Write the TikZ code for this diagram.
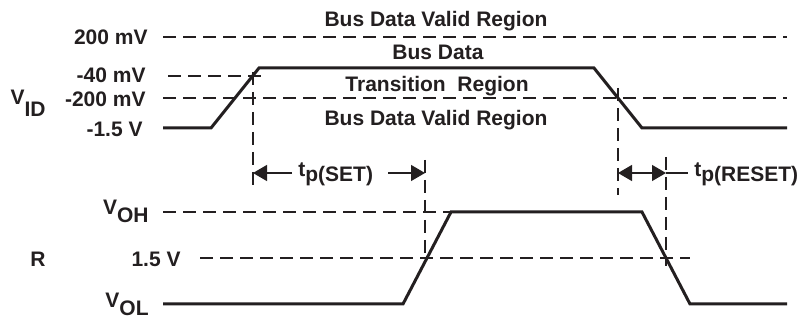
\documentclass[tikz,border=0pt]{standalone}
\usepackage{fontspec}
\setmainfont{Liberation Sans}
\usetikzlibrary{calc,arrows.meta,positioning}
\definecolor{ink}{RGB}{35,31,32}
\newcommand{\lowered}[2]{\raisebox{-#1}{#2}}

\begin{document}
\begin{tikzpicture}[x=0.5pt,y=-0.5pt,ink,font=\bfseries\fontsize{10.5}{12}\selectfont,
  wave/.style={line width=1.5pt},
  guide/.style={line width=0.65pt,dash pattern=on 6.5pt off 3.5pt},
  dimline/.style={line width=0.65pt,-{Triangle[length=7pt,width=8pt]}},
  lbl/.style={inner sep=0pt,anchor=base east},
  region/.style={inner sep=0pt,anchor=base}]
  \useasboundingbox (0,0) rectangle (803,325);

  % input waveform
  \coordinate (i1) at (163,128);
  \coordinate (i2) at (211,128);
  \coordinate (i3) at (259,68);
  \coordinate (i4) at (594,68);
  \coordinate (i5) at (642,128);
  \coordinate (i6) at (787,128);
  \draw[wave] (i1) -- (i2) -- (i3) -- (i4) -- (i5) -- (i6);

  % output waveform
  \coordinate (o1) at (163,304);
  \coordinate (o2) at (403,304);
  \coordinate (o3) at (451,212);
  \coordinate (o4) at (642,212);
  \coordinate (o5) at (690,304);
  \coordinate (o6) at (787,304);
  \draw[wave] (o1) -- (o2) -- (o3) -- (o4) -- (o5) -- (o6);

  % threshold labels
  \node[lbl] (l200) at (148,45) {200 mV};
  \node[lbl] (l40) at (146,83) {-40 mV};
  \node[lbl] (l200n) at (146,107) {-200 mV};
  \node[lbl] (l15n) at (143,137) {-1.5 V};
  \node[lbl] (vid) at (46,105) {V\lowered{6pt}{ID}};
  \node[lbl] (voh) at (149,215) {V\lowered{4pt}{OH}};
  \node[lbl] (l15) at (181,267) {1.5 V};
  \node[lbl] (rr) at (46,267) {R};
  \node[lbl] (vol) at (149,308) {V\lowered{4pt}{OL}};

  % regions
  \node[region] (valid1) at (436,27) {Bus Data Valid Region};
  \node[region] (busd) at (438,60) {Bus Data};
  \node[region] (trans) at (437,92) {Transition~ Region};
  \node[region] (valid2) at (436,126) {Bus Data Valid Region};

  % dashed levels
  \coordinate (g1a) at (163,37);  \coordinate (g1b) at (787,37);
  \coordinate (g2a) at (168,76);  \coordinate (g2b) at (265,76);
  \coordinate (g3a) at (163,98);  \coordinate (g3b) at (787,98);
  \coordinate (g4a) at (163,212);
  \coordinate (g5a) at (200,258); \coordinate (g5b) at (690,258);
  \draw[guide] (g1a) -- (g1b);
  \draw[guide] (g2a) -- (g2b);
  \draw[guide] (g3a) -- (g3b);
  \draw[guide] (g4a) -- (o3);
  \draw[guide] (g5a) -- (g5b);

  % timing marks
  \coordinate (v1t) at (253,72);  \coordinate (v1b) at (253,188);
  \coordinate (v2t) at (425,160); \coordinate (v2b) at (425,263);
  \coordinate (v3t) at (618,88);  \coordinate (v3b) at (618,195);
  \coordinate (v4t) at (666,157); \coordinate (v4b) at (666,266);
  \draw[guide] (v1t) -- (v1b);
  \draw[guide] (v2t) -- (v2b);
  \draw[guide] (v3t) -- (v3b);
  \draw[guide] (v4t) -- (v4b);

  \node[inner sep=0pt,anchor=base west] (tset) at (298,177) {t\lowered{2.5pt}{p(SET)}};
  \node[inner sep=0pt,anchor=base west] (treset) at (694,177) {t\lowered{2.5pt}{p(RESET)}};
  \coordinate (s1) at (292,173); \coordinate (s2) at (388,173);
  \coordinate (r1) at (642,173); \coordinate (r2) at (688,173);
  \draw[dimline] (s1) -- (s1 -| v1t);
  \draw[dimline] (s2) -- (s2 -| v2t);
  \draw[dimline] (r1) -- (r1 -| v3t);
  \draw[dimline] (r1) -- (r1 -| v4t);
  \draw[line width=0.65pt] (r1 -| v4t) -- (r2);
\end{tikzpicture}
\end{document}
